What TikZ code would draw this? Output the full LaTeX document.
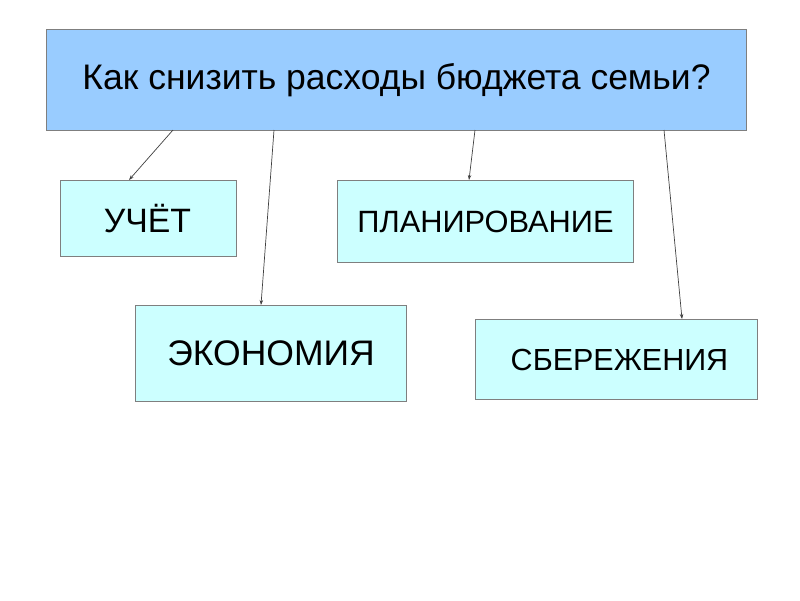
\documentclass[tikz,border=0pt]{standalone}
\usepackage{fontspec}
\setmainfont{Liberation Sans}
\usetikzlibrary{arrows.meta}
\definecolor{mainfill}{HTML}{99CCFF}
\definecolor{boxfill}{HTML}{CCFFFF}
\definecolor{edge}{HTML}{7F7F7F}
\definecolor{conn}{HTML}{404040}
\tikzset{
  box/.style={draw=edge, line width=1pt, fill=boxfill, inner sep=0pt, anchor=north west},
  mainbox/.style={draw=edge, line width=1pt, fill=mainfill, inner sep=0pt, anchor=north west},
  conn/.style={draw=conn, line width=0.7pt, -{Stealth[length=5pt,width=3.5pt]}},
  lbl/.style={inner sep=0pt}
}
\begin{document}
\begin{tikzpicture}[x=1pt,y=-1pt]
\useasboundingbox (0,0) rectangle (800,600);
\node[mainbox, minimum width=700pt, minimum height=101pt] (main) at (46,29) {};
\node[lbl] at (main.center) {\fontsize{35.5}{40}\selectfont Как снизить расходы бюджета семьи?};
\node[box, minimum width=176pt, minimum height=76pt] (uchet) at (60,180) {};
\node[lbl] at ([xshift=-1pt]uchet.center) {\fontsize{33.8}{38}\selectfont УЧЁТ};
\node[box, minimum width=296pt, minimum height=82pt] (plan) at (337,180) {};
\node[lbl] at (plan.center) {\fontsize{30.8}{36}\selectfont ПЛАНИРОВАНИЕ};
\node[box, minimum width=271pt, minimum height=96pt] (econ) at (135,305) {};
\node[lbl] at (econ.center) {\fontsize{35.5}{40}\selectfont ЭКОНОМИЯ};
\node[box, minimum width=282pt, minimum height=80pt] (save) at (475,319) {};
\node[lbl] at ([xshift=3pt]save.center) {\fontsize{30.5}{36}\selectfont СБЕРЕЖЕНИЯ};
\coordinate (m1) at (173,130);
\coordinate (m2) at (274,130);
\coordinate (m3) at (475,130);
\coordinate (m4) at (664,130);
\coordinate (t1) at (129,180);
\coordinate (t2) at (261,305);
\coordinate (t3) at (469,180);
\coordinate (t4) at (682,319);
\draw[conn] (m1) -- (t1);
\draw[conn] (m2) -- (t2);
\draw[conn] (m3) -- (t3);
\draw[conn] (m4) -- (t4);
\end{tikzpicture}
\end{document}
